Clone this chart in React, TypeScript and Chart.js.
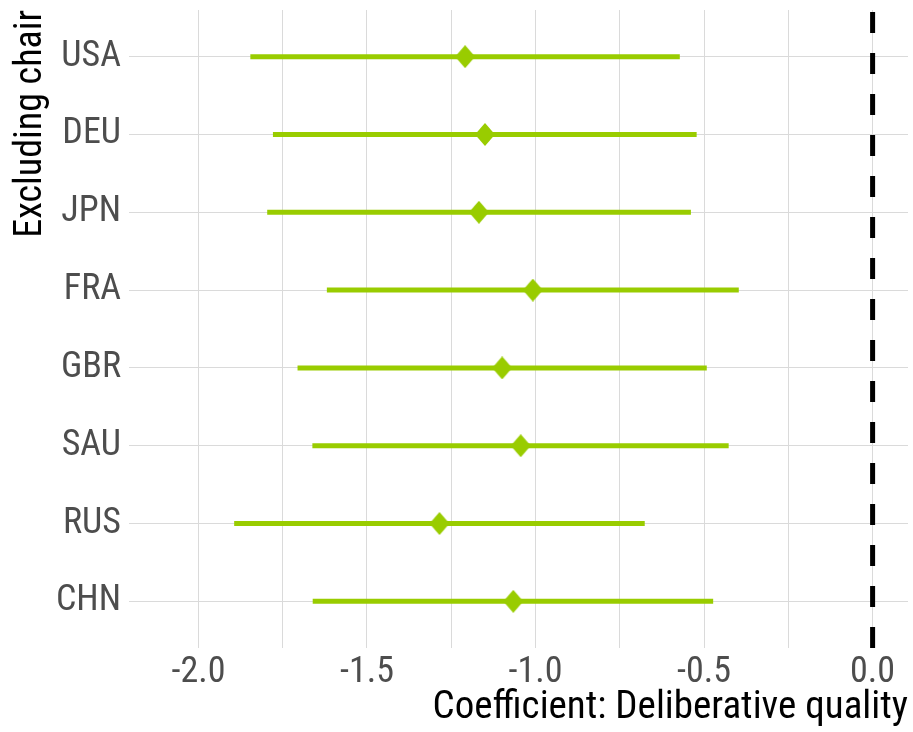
import { useEffect, useRef } from 'react';
import { Chart, registerables } from 'chart.js';

Chart.register(...registerables);

const countries = ['USA', 'DEU', 'JPN', 'FRA', 'GBR', 'SAU', 'RUS', 'CHN'];
const estimates = [-1.209, -1.15, -1.168, -1.008, -1.099, -1.044, -1.285, -1.066];
const lower = [-1.846, -1.779, -1.796, -1.619, -1.706, -1.662, -1.894, -1.661];
const upper = [-0.572, -0.522, -0.539, -0.397, -0.492, -0.427, -0.676, -0.473];
const xGridBreaks = [-2.0, -1.75, -1.5, -1.25, -1.0, -0.75, -0.5, -0.25, 0.0];
const xLabelBreaks = [-2.0, -1.5, -1.0, -0.5, 0.0];
const referenceValue = 0;

const FONT = '"Roboto Condensed", "Liberation Sans Narrow", "DejaVu Sans Condensed", Roboto, sans-serif';
const GREEN = '#99CC00';

function makeDiamond(w: number, h: number, color: string) {
  const c = document.createElement('canvas');
  c.width = w;
  c.height = h;
  const ctx = c.getContext('2d')!;
  ctx.fillStyle = color;
  ctx.beginPath();
  ctx.moveTo(w / 2, 0);
  ctx.lineTo(w, h / 2);
  ctx.lineTo(w / 2, h);
  ctx.lineTo(0, h / 2);
  ctx.closePath();
  ctx.fill();
  return c;
}

export default function App() {
  const ref = useRef<HTMLCanvasElement | null>(null);

  useEffect(() => {
    document.body.style.margin = '0';
    const canvas = ref.current;
    if (!canvas) return;
    const diamond = makeDiamond(20, 23, GREEN);
    const n = countries.length;
    // top row (first country) gets the highest y value
    const yPos = (i: number) => n - i;

    const yMin = 0.4;
    const yMax = n + 0.6;

    const intervalSets = countries.map((c, i) => ({
      type: 'line' as const,
      label: c + ' CI',
      data: [
        { x: lower[i], y: yPos(i) },
        { x: upper[i], y: yPos(i) },
      ],
      borderColor: GREEN,
      borderWidth: 5,
      borderCapStyle: 'butt' as const,
      pointRadius: 0,
      showLine: true,
      order: 1,
    }));

    const chart = new Chart(canvas, {
      type: 'scatter',
      data: {
        datasets: [
          {
            label: 'Estimate',
            data: countries.map((c, i) => ({ x: estimates[i], y: yPos(i) })),
            pointStyle: diamond as any,
            pointRadius: 10,
            backgroundColor: GREEN,
            borderColor: GREEN,
            order: 0,
          } as any,
          ...intervalSets,
          {
            type: 'line',
            label: 'zero',
            data: [
              { x: referenceValue, y: yMax },
              { x: referenceValue, y: yMin },
            ],
            borderColor: '#000000',
            borderWidth: 5,
            borderDash: [21, 20],
            borderDashOffset: -2,
            borderCapStyle: 'butt',
            pointRadius: 0,
            showLine: true,
            order: 2,
          } as any,
        ],
      },
      options: {
        responsive: false,
        animation: false,
        layout: { autoPadding: false, padding: { top: 10, right: 5, left: 0, bottom: 0 } },
        plugins: {
          legend: { display: false },
          tooltip: { enabled: false },
        },
        scales: {
          x: {
            type: 'linear',
            min: -2.206,
            max: 0.105,
            border: { display: false },
            grid: { color: '#DADADA', lineWidth: 1, drawTicks: false },
            afterBuildTicks: (scale: any) => {
              scale.ticks = xGridBreaks.map((v) => ({ value: v }));
            },
            afterFit: (scale: any) => {
              scale.height = 84;
              scale.paddingLeft = 0;
              scale.paddingRight = 0;
            },
            ticks: {
              padding: 3,
              color: '#4D4D4D',
              font: { family: FONT, size: 36 },
              maxRotation: 0,
              autoSkip: false,
              callback: (v: any) => {
                const num = Number(v);
                return xLabelBreaks.some((b) => Math.abs(b - num) < 1e-9) ? num.toFixed(1) : '';
              },
            },
            title: {
              display: true,
              text: 'Coefficient: Deliberative quality',
              align: 'end',
              color: '#000000',
              font: { family: FONT, size: 39 },
              padding: { top: 0, bottom: 0 },
            },
          },
          y: {
            type: 'linear',
            min: yMin,
            max: yMax,
            border: { display: false },
            grid: { color: '#DADADA', lineWidth: 1, drawTicks: false },
            afterBuildTicks: (scale: any) => {
              scale.ticks = countries.map((_, i) => ({ value: yPos(i) }));
            },
            afterFit: (scale: any) => {
              scale.width = 129;
              scale.paddingTop = 0;
              scale.paddingBottom = 0;
            },
            ticks: {
              padding: 8,
              color: '#4D4D4D',
              font: { family: FONT, size: 36 },
              autoSkip: false,
              callback: (v: any) => countries[n - Math.round(Number(v))] ?? '',
            },
            title: {
              display: true,
              text: 'Excluding chair',
              align: 'end',
              color: '#000000',
              font: { family: FONT, size: 38 },
              padding: { top: 9, bottom: 0 },
            },
          },
        },
      },
    });

    return () => chart.destroy();
  }, []);

  return (
    <div style={{ width: 913, height: 732 }}>
      <canvas ref={ref} width={913} height={732} style={{ display: 'block' }} />
    </div>
  );
}
